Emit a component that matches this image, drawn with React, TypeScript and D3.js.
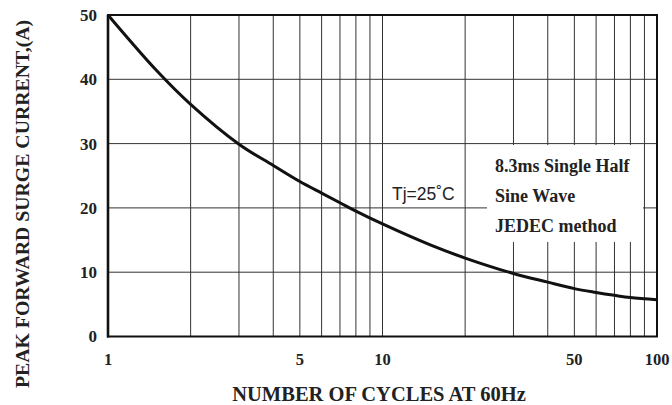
import React, { useRef, useEffect } from 'react';
import * as d3 from 'd3';

// curve
const cycles = [1, 1.5, 2, 3, 4, 5, 6, 7, 8, 10, 15, 20, 30, 40, 50, 60, 70, 80, 100];
const surgeCurrent = [50, 41.4, 36.1, 29.9, 26.6, 24.1, 22.3, 20.8, 19.5, 17.5, 14.2, 12.2, 9.8, 8.45, 7.45, 6.85, 6.4, 6.05, 5.7];

const xGridTicks = [2, 3, 4, 5, 6, 7, 8, 9, 10, 20, 30, 40, 50, 60, 70, 80, 90];
const xTickLabels = [1, 5, 10, 50, 100];
const yTicks = [0, 10, 20, 30, 40, 50];
const noteLines = ['8.3ms Single Half', 'Sine Wave', 'JEDEC method'];

const serif = '"Times New Roman", "Liberation Serif", serif';
const sans = 'Arial, "Liberation Sans", sans-serif';

const App = () => {
  const svgRef = useRef<SVGSVGElement>(null);

  useEffect(() => {
    const svg = d3.select(svgRef.current);
    svg.selectAll('*').remove();

    const left = 108, right = 657, top = 15, bottom = 336.5;

    const x = d3.scaleLog().domain([1, 100]).range([left, right]);
    const y = d3.scaleLinear().domain([0, 50]).range([bottom, top]);

    svg.append('rect').attr('width', 672).attr('height', 405).attr('fill', '#fff');

    // grid
    const grid = svg.append('g').attr('stroke', '#333').attr('stroke-width', 1);
    grid.selectAll('line.v')
      .data(xGridTicks)
      .enter()
      .append('line')
      .attr('x1', d => x(d)).attr('x2', d => x(d))
      .attr('y1', top).attr('y2', bottom);
    grid.selectAll('line.h')
      .data(yTicks.filter(d => d > 0 && d < 50))
      .enter()
      .append('line')
      .attr('x1', left).attr('x2', right)
      .attr('y1', d => y(d)).attr('y2', d => y(d));

    // white box behind the note
    svg.append('rect')
      .attr('x', 487).attr('y', 145)
      .attr('width', 156).attr('height', 97)
      .attr('fill', '#fff');

    // frame
    svg.append('rect')
      .attr('x', left).attr('y', top)
      .attr('width', right - left).attr('height', bottom - top)
      .attr('fill', 'none').attr('stroke', '#111').attr('stroke-width', 2);
    svg.append('line')
      .attr('x1', left).attr('x2', left).attr('y1', top).attr('y2', bottom + 1)
      .attr('stroke', '#111').attr('stroke-width', 2.6);

    // curve
    const line = d3.line<number>()
      .x((d, i) => x(cycles[i]))
      .y(d => y(d))
      .curve(d3.curveCatmullRom.alpha(0.5));
    svg.append('path')
      .datum(surgeCurrent)
      .attr('d', line)
      .attr('fill', 'none')
      .attr('stroke', '#111')
      .attr('stroke-width', 3);

    // y tick labels
    svg.selectAll('text.yt')
      .data(yTicks)
      .enter()
      .append('text')
      .attr('x', 97)
      .attr('y', d => y(d))
      .attr('dy', '0.35em')
      .attr('text-anchor', 'end')
      .attr('font-family', serif)
      .attr('font-weight', 'bold')
      .attr('font-size', 17)
      .attr('fill', '#222')
      .text(d => d);

    // x tick labels
    svg.selectAll('text.xt')
      .data(xTickLabels)
      .enter()
      .append('text')
      .attr('x', d => x(d))
      .attr('y', 365)
      .attr('text-anchor', 'middle')
      .attr('font-family', serif)
      .attr('font-weight', 'bold')
      .attr('font-size', 16.5)
      .attr('fill', '#222')
      .text(d => d);

    // axis titles
    svg.append('text')
      .attr('x', 379).attr('y', 401)
      .attr('text-anchor', 'middle')
      .attr('font-family', serif)
      .attr('font-weight', 'bold')
      .attr('font-size', 20.5)
      .attr('fill', '#222')
      .text('NUMBER OF CYCLES AT 60Hz');

    svg.append('text')
      .attr('transform', 'translate(29,204) rotate(-90)')
      .attr('text-anchor', 'middle')
      .attr('font-family', serif)
      .attr('font-weight', 'bold')
      .attr('font-size', 19.8)
      .attr('fill', '#222')
      .text('PEAK FORWARD SURGE CURRENT,(A)');

    // annotations
    svg.append('text')
      .attr('x', 392).attr('y', 200)
      .attr('font-family', sans)
      .attr('font-size', 17.5)
      .attr('fill', '#222')
      .text('Tj=25˚C');

    svg.selectAll('text.note')
      .data(noteLines)
      .enter()
      .append('text')
      .attr('x', 495)
      .attr('y', (d, i) => 172 + i * 30)
      .attr('font-family', serif)
      .attr('font-weight', 'bold')
      .attr('font-size', 18)
      .attr('fill', '#222')
      .text(d => d);
  }, []);

  return (
    <svg
      ref={svgRef}
      width="672"
      height="405"
      style={{ position: 'absolute', left: 0, top: 0 }}
    ></svg>
  );
};

export default App;
